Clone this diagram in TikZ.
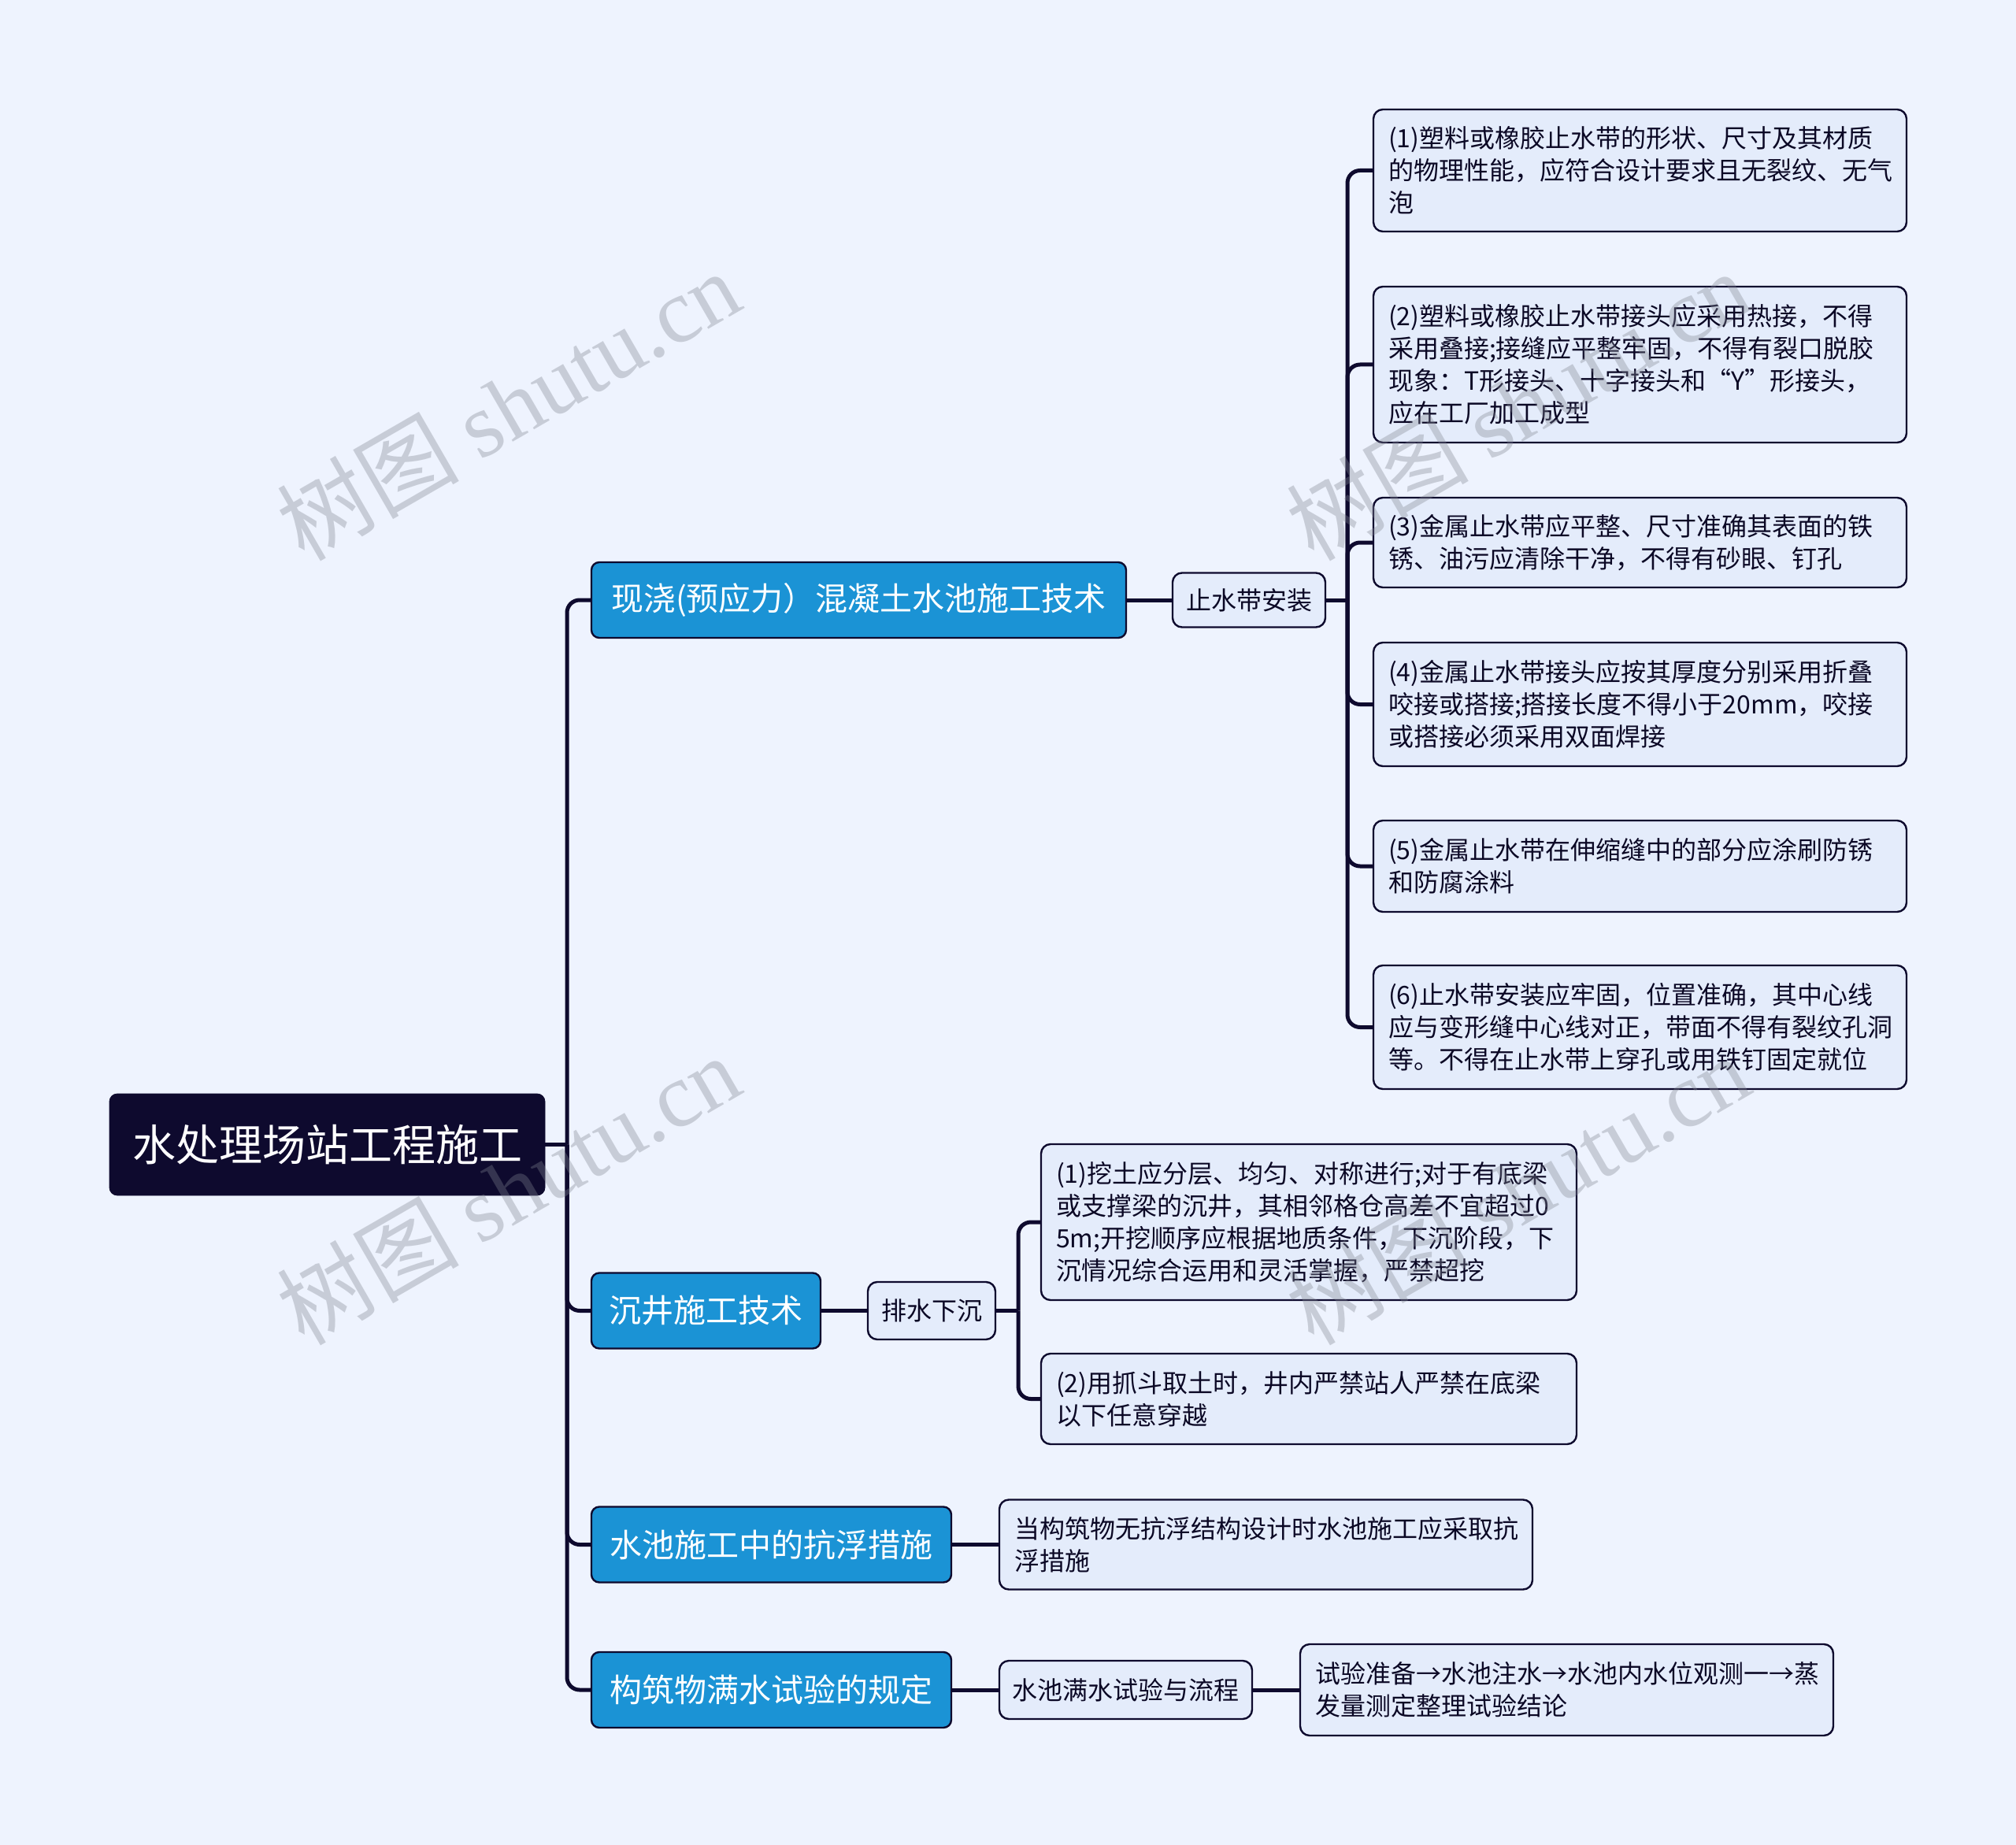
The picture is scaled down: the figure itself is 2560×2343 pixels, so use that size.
\documentclass[tikz,border=0pt]{standalone}
\usepackage{fontspec}
\setmainfont{Noto Sans CJK SC}
\newfontfamily\cjkwm{Noto Sans CJK SC}
\newfontfamily\wmfont{Liberation Serif}
\definecolor{bgc}{HTML}{EEF3FE}
\definecolor{navy}{HTML}{0E0A2E}
\definecolor{branchblue}{HTML}{1B93D5}
\definecolor{leaffill}{HTML}{E4ECFB}
\definecolor{wmc}{HTML}{808590}
\tikzset{
  rootbox/.style={fill=navy, draw=navy, text=white, rounded corners=5pt,
    font=\fontsize{27.5pt}{32pt}\selectfont, inner sep=0pt},
  branchbox/.style={fill=branchblue, draw=navy, line width=1.2pt, text=white, rounded corners=5pt,
    font=\fontsize{20.5pt}{25pt}\selectfont, inner sep=0pt, minimum height=48pt},
  midbox/.style={fill=leaffill, draw=navy, line width=1.2pt, text=navy!80!black, rounded corners=6pt,
    font=\fontsize{16pt}{20.5pt}\selectfont, inner sep=0pt},
  leafbox/.style={fill=leaffill, draw=navy, line width=1.2pt, text=navy!80!black, rounded corners=6pt,
    font=\fontsize{16pt}{20.5pt}\selectfont, inner xsep=9.5pt, inner ysep=0pt,
    align=left, text width=#1-19pt},
  conn/.style={draw=navy, line width=2.5pt, rounded corners=8pt},
  wmark/.style={text=wmc, opacity=0.35, rotate=30, font=\fontsize{58pt}{66pt}\selectfont}
}
\begin{document}
\begin{tikzpicture}[x=0.5pt,y=-0.5pt]
\useasboundingbox (0,0) rectangle (2560,2343);
\fill[bgc] (0,0) rectangle (2560,2343);

% root
\node[rootbox, minimum width=276.5pt, minimum height=64.5pt] (root) at (415.5,1453.5) {水处理场站工程施工};

% branches
\node[branchbox, minimum width=339.5pt] (b1) at (1090.5,762) {现浇(预应力）混凝土水池施工技术};
\node[branchbox, minimum width=145.5pt] (b2) at (896.5,1664.5) {沉井施工技术};
\node[branchbox, minimum width=228.5pt] (b3) at (979.5,1961.5) {水池施工中的抗浮措施};
\node[branchbox, minimum width=228.5pt] (b4) at (979.5,2146) {构筑物满水试验的规定};

% mid nodes
\node[midbox, minimum width=97pt, minimum height=34.5pt] (m1) at (1586,762) {止水带安装};
\node[midbox, minimum width=81pt, minimum height=36.5pt] (m2) at (1183,1664.5) {排水下沉};
\node[midbox, minimum width=160.5pt, minimum height=37pt] (m4) at (1429.5,2146) {水池满水试验与流程};

% leaves of m1
\node[leafbox=338.5pt, minimum height=77.5pt] (l1) at (2082.5,216.5) {(1)塑料或橡胶止水带的形状、尺寸及其材质\\的物理性能，应符合设计要求且无裂纹、无气\\泡};
\node[leafbox=338.5pt, minimum height=99pt] (l2) at (2082.5,463) {(2)塑料或橡胶止水带接头应采用热接，不得\\采用叠接;接缝应平整牢固，不得有裂口脱胶\\现象：T形接头、十字接头和“Y”形接头，\\应在工厂加工成型};
\node[leafbox=338.5pt, minimum height=57pt] (l3) at (2082.5,689) {(3)金属止水带应平整、尺寸准确其表面的铁\\锈、油污应清除干净，不得有砂眼、钉孔};
\node[leafbox=338.5pt, minimum height=78.5pt] (l4) at (2082.5,894.5) {(4)金属止水带接头应按其厚度分别采用折叠\\咬接或搭接;搭接长度不得小于20mm，咬接\\或搭接必须采用双面焊接};
\node[leafbox=338.5pt, minimum height=58pt] (l5) at (2082.5,1100) {(5)金属止水带在伸缩缝中的部分应涂刷防锈\\和防腐涂料};
\node[leafbox=338.5pt, minimum height=78.5pt] (l6) at (2082.5,1304.5) {(6)止水带安装应牢固，位置准确，其中心线\\应与变形缝中心线对正，带面不得有裂纹孔洞\\等。不得在止水带上穿孔或用铁钉固定就位};

% leaves of m2
\node[leafbox=340pt, minimum height=99pt] (s1) at (1662,1552) {(1)挖土应分层、均匀、对称进行;对于有底梁\\或支撑梁的沉井，其相邻格仓高差不宜超过0\\5m;开挖顺序应根据地质条件，下沉阶段，下\\沉情况综合运用和灵活掌握，严禁超挖};
\node[leafbox=340pt, minimum height=57.5pt] (s2) at (1662,1776.5) {(2)用抓斗取土时，井内严禁站人严禁在底梁\\以下任意穿越};

% leaf of b3
\node[leafbox=338.5pt, minimum height=57pt] (f1) at (1607.5,1961.5) {当构筑物无抗浮结构设计时水池施工应采取抗\\浮措施};

% leaf of m4
\node[leafbox=338.5pt, minimum height=58pt] (w2) at (1989.5,2146) {试验准备→水池注水→水池内水位观测一→蒸\\发量测定整理试验结论};

% connectors
\coordinate (rj) at (720,1453.5);
\draw[conn] (root.east) -- (rj);
\foreach \b in {b1,b2,b3,b4}{\draw[conn] (rj) |- (\b.west);}

\draw[conn] (b1.east) -- (m1.west);
\coordinate (mj1) at (1711,762);
\draw[conn] (m1.east) -- (mj1);
\foreach \l in {l1,l2,l3,l4,l5,l6}{\draw[conn] (mj1) |- (\l.west);}

\draw[conn] (b2.east) -- (m2.west);
\coordinate (mj2) at (1293,1664.5);
\draw[conn] (m2.east) -- (mj2);
\foreach \l in {s1,s2}{\draw[conn] (mj2) |- (\l.west);}

\draw[conn] (b3.east) -- (f1.west);
\draw[conn] (b4.east) -- (m4.west);
\draw[conn] (m4.east) -- (w2.west);

% watermarks
\begin{scope}
\clip (0,0) rectangle (2560,2343);
\foreach \wx/\wy in {645/514, 645/1510, 645/2506, 1927/514, 1927/1510, 1927/2506}{
  \node[wmark] at (\wx,\wy) {{\cjkwm 树图} {\wmfont shutu.cn}};
}
\end{scope}
\end{tikzpicture}
\end{document}
